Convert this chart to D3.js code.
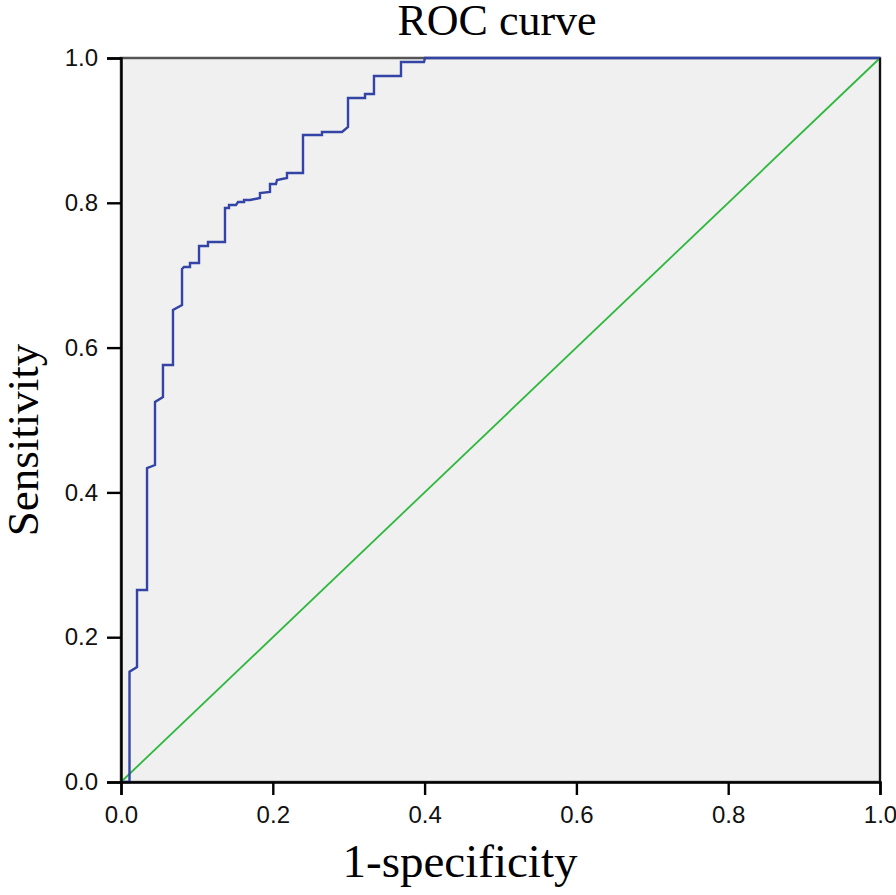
<!DOCTYPE html>
<html>
<head>
<meta charset="utf-8">
<script src="https://cdn.jsdelivr.net/npm/d3@7/dist/d3.min.js"></script>
<style>
html,body{margin:0;padding:0;background:#fff;}
svg{display:block;}
</style>
</head>
<body>
<svg id="chart" width="896" height="895"></svg>
<script>
// ROC curve points (1-specificity, sensitivity)
const rocFpr = [0,0.0112,0.0112,0.0211,0.0211,0.0343,0.0343,0.0448,0.0448,0.0553,0.0553,0.0685,0.0685,0.0804,0.0804,0.0830,0.0909,0.0909,0.1028,0.1028,0.1146,0.1146,0.1370,0.1370,0.1423,0.1423,0.1515,0.1542,0.1621,0.1621,0.1700,0.1831,0.1831,0.1963,0.1963,0.2042,0.2055,0.2187,0.2187,0.2398,0.2398,0.2648,0.2648,0.2912,0.2991,0.2991,0.3215,0.3215,0.3333,0.3333,0.3689,0.3689,0.3992,0.4005,1];
const rocTpr = [0,0,0.1523,0.1588,0.2652,0.2652,0.4337,0.4378,0.5249,0.5318,0.5760,0.5760,0.6519,0.6588,0.7086,0.7113,0.7113,0.7169,0.7169,0.7403,0.7403,0.7459,0.7459,0.7928,0.7928,0.7970,0.7970,0.8011,0.8011,0.8039,0.8039,0.8066,0.8135,0.8149,0.8260,0.8260,0.8315,0.8343,0.8412,0.8412,0.8936,0.8936,0.8978,0.8978,0.9047,0.9448,0.9448,0.9503,0.9503,0.9751,0.9751,0.9945,0.9945,1,1];
const refX = [0,1];
const refY = [0,1];
const tickValues = [0,0.2,0.4,0.6,0.8,1.0];
const tickLabels = ["0.0","0.2","0.4","0.6","0.8","1.0"];
const titleText = "ROC curve";
const xLabel = "1-specificity";
const yLabel = "Sensitivity";

const svg = d3.select("#chart");
const L = 121, R = 880, T = 58, B = 782;
const x = d3.scaleLinear().domain([0,1]).range([L,R]);
const y = d3.scaleLinear().domain([0,1]).range([B,T]);

// plot background
svg.append("rect").attr("x",L).attr("y",T).attr("width",R-L).attr("height",B-T)
  .attr("fill","#f0f0f0").attr("stroke","#555").attr("stroke-width",2.5);

// reference line
const line = d3.line().x(d=>x(d[0])).y(d=>y(d[1]));
svg.append("path").datum(refX.map((v,i)=>[v,refY[i]]))
  .attr("d",line).attr("fill","none").attr("stroke","#2db83d").attr("stroke-width",1.8);

// ROC curve
svg.append("path").datum(rocFpr.map((v,i)=>[v,rocTpr[i]]))
  .attr("d",line).attr("fill","none").attr("stroke","#3343a6").attr("stroke-width",2.4)
  .attr("stroke-linejoin","miter");

// right border
svg.append("line").attr("x1",R).attr("x2",R).attr("y1",T).attr("y2",B).attr("stroke","#111").attr("stroke-width",2);

// axes
const xAxis = d3.axisBottom(x).tickValues(tickValues).tickFormat((d,i)=>tickLabels[i]).tickSize(13).tickPadding(5);
const yAxis = d3.axisLeft(y).tickValues(tickValues).tickFormat((d,i)=>tickLabels[i]).tickSize(14).tickPadding(9);

const gx = svg.append("g").attr("transform",`translate(0,${B})`).call(xAxis);
const gy = svg.append("g").attr("transform",`translate(${L},0)`).call(yAxis);
[gx,gy].forEach(g=>{
  g.select(".domain").attr("stroke","#000").attr("stroke-width",2.4);
  g.selectAll(".tick line").attr("stroke","#000").attr("stroke-width",2.4);
  g.selectAll(".tick text").attr("fill","#111")
    .style("font-family","'Liberation Sans', Arial, sans-serif").style("font-size","24px");
});
gx.selectAll(".tick text").attr("dy","0.95em");

// titles
svg.append("text").attr("x",497).attr("y",35).attr("text-anchor","middle")
  .style("font-family","'Liberation Serif','Times New Roman',serif").style("font-size","44px")
  .attr("fill","#000").text(titleText);
svg.append("text").attr("x",460).attr("y",877).attr("text-anchor","middle")
  .style("font-family","'Liberation Serif','Times New Roman',serif").style("font-size","47px")
  .attr("fill","#000").text(xLabel);
svg.append("text").attr("transform","translate(38,440) rotate(-90)").attr("text-anchor","middle")
  .style("font-family","'Liberation Serif','Times New Roman',serif").style("font-size","45px")
  .attr("fill","#000").text(yLabel);
</script>
</body>
</html>
